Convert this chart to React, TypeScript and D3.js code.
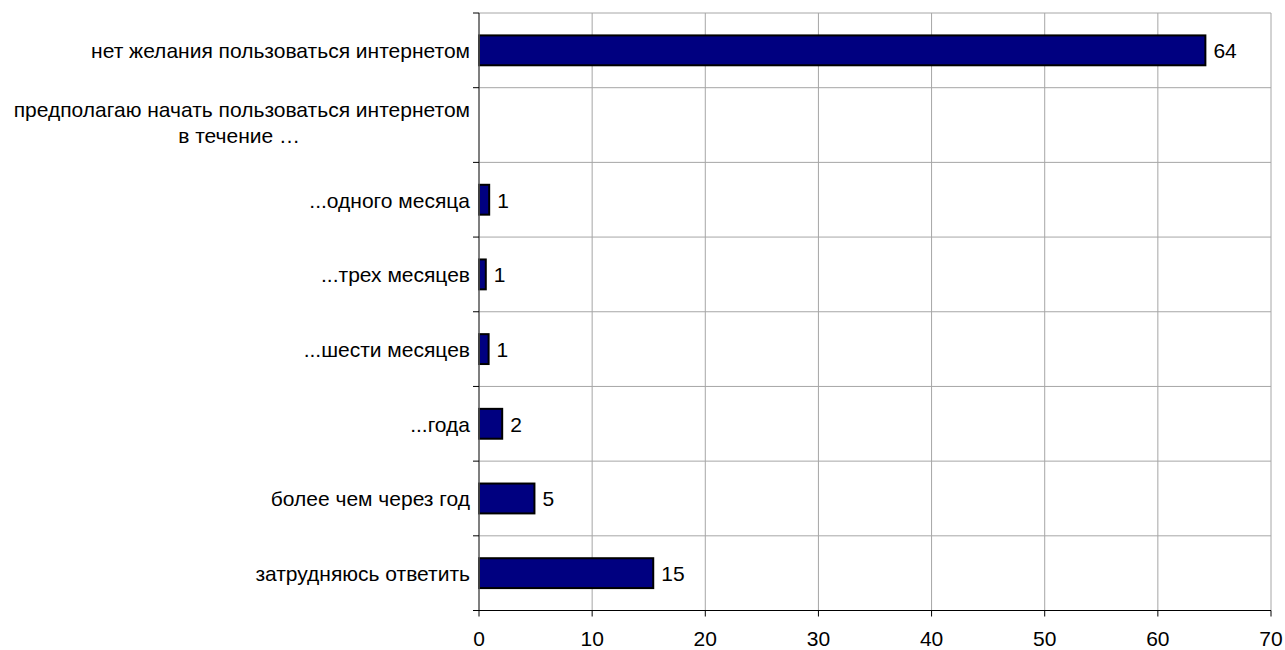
import React from 'react'
import * as d3 from 'd3'

// categories top to bottom
const categories = [
  'нет желания пользоваться интернетом',
  'предполагаю начать пользоваться интернетом|в течение …',
  '...одного месяца',
  '...трех месяцев',
  '...шести месяцев',
  '...года',
  'более чем через год',
  'затрудняюсь ответить',
]
const values: (number | null)[] = [64.2, null, 0.9, 0.6, 0.85, 2.05, 4.9, 15.4]
const valueLabels = ['64', '', '1', '1', '1', '2', '5', '15']
const xTicks = [0, 10, 20, 30, 40, 50, 60, 70]

const W = 1285
const H = 650
const margin = { top: 13, right: 14, bottom: 39.5, left: 479 }
const font = "'Liberation Sans', Arial, sans-serif"
const fs = 21

export default function App() {
  const x = d3.scaleLinear().domain([0, 70]).range([margin.left, W - margin.right])
  const y = d3.scaleBand<string>().domain(categories).range([margin.top, H - margin.bottom]).padding(0)
  const bw = y.bandwidth()
  const barH = bw * 0.4
  const bottom = H - margin.bottom

  return (
    <svg width={W} height={H} style={{ position: 'absolute', left: 0, top: 0, background: '#fff' }}>
      {/* vertical grid */}
      {xTicks.slice(1).map(t => (
        <line key={'gx' + t} x1={x(t)} x2={x(t)} y1={margin.top} y2={bottom} stroke="#a6a6a6" strokeWidth={1} />
      ))}
      {/* horizontal grid at band edges */}
      {categories.map(c => (
        <line key={'gy' + c} x1={margin.left} x2={W - margin.right} y1={y(c)!} y2={y(c)!} stroke="#a6a6a6" strokeWidth={1} />
      ))}

      {/* bars */}
      {categories.map((c, i) => {
        const v = values[i]
        if (v == null) return null
        const cy = y(c)! + bw / 2
        return (
          <g key={'b' + c}>
            <rect x={x(0)} y={cy - barH / 2} width={x(v) - x(0)} height={barH} fill="#000080" stroke="#000" strokeWidth={2} />
            <text x={x(v) + 8} y={cy + 8} fontFamily={font} fontSize={fs} fill="#000">{valueLabels[i]}</text>
          </g>
        )
      })}

      {/* axes */}
      <line x1={margin.left} x2={margin.left} y1={margin.top} y2={bottom} stroke="#555" strokeWidth={1.5} />
      <line x1={margin.left - 6} x2={W - margin.right} y1={bottom} y2={bottom} stroke="#000" strokeWidth={1} />
      {categories.map(c => (
        <line key={'ty' + c} x1={margin.left - 6} x2={margin.left} y1={y(c)!} y2={y(c)!} stroke="#000" strokeWidth={1} />
      ))}
      {xTicks.map(t => (
        <g key={'tx' + t}>
          <line x1={x(t)} x2={x(t)} y1={bottom} y2={bottom + 6} stroke="#000" strokeWidth={1} />
          <text x={x(t)} y={H - 4.5} textAnchor="middle" fontFamily={font} fontSize={fs} fill="#000">{t}</text>
        </g>
      ))}

      {/* category labels */}
      {categories.map(c => {
        const cy = y(c)! + bw / 2
        const lines = c.split('|')
        if (lines.length === 1) {
          return (
            <text key={'l' + c} x={margin.left - 9} y={cy + 8} textAnchor="end" fontFamily={font} fontSize={fs} fill="#000">{c}</text>
          )
        }
        return (
          <g key={'l' + c}>
            <text x={margin.left - 9} y={cy - 8} textAnchor="end" fontFamily={font} fontSize={fs} fill="#000">{lines[0]}</text>
            <text x={300} y={cy + 18} textAnchor="end" fontFamily={font} fontSize={fs} fill="#000">{lines[1]}</text>
          </g>
        )
      })}
    </svg>
  )
}
